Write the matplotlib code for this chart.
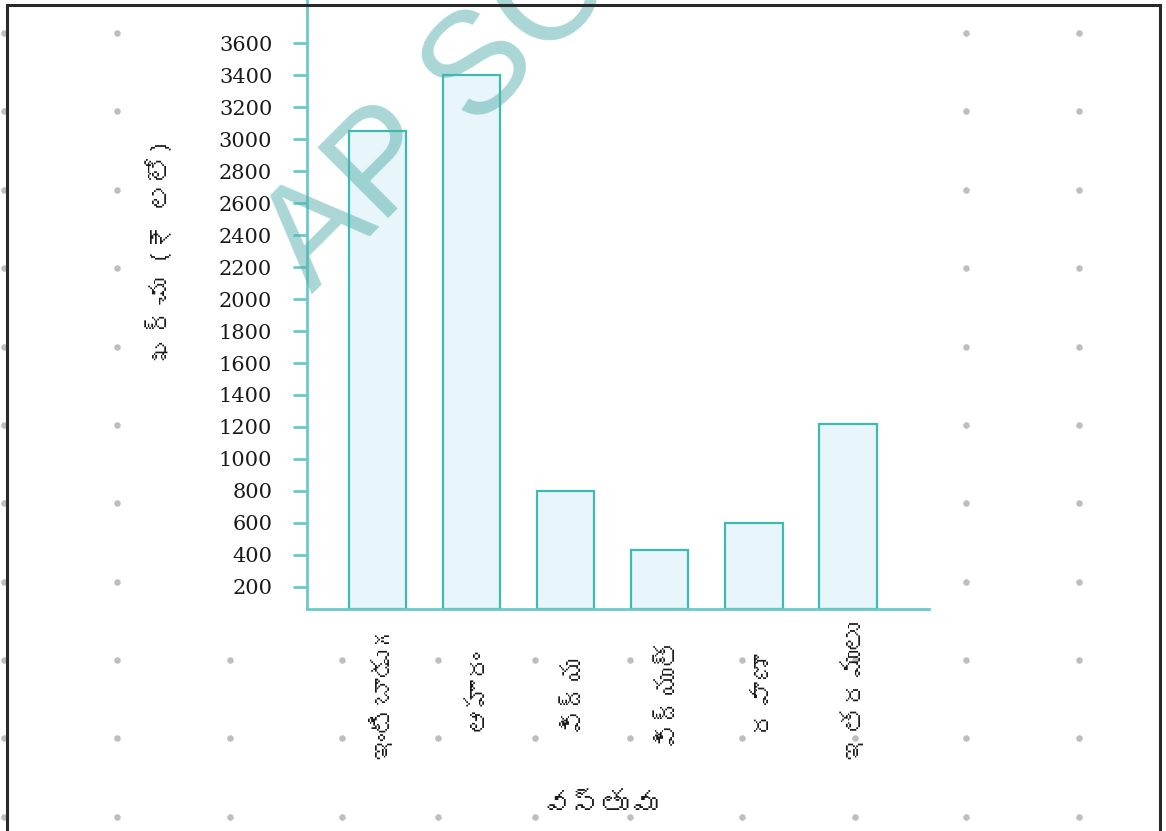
import matplotlib
matplotlib.use("Agg")
import matplotlib.pyplot as plt
import matplotlib.transforms as mtransforms
from matplotlib import font_manager
from matplotlib.ft2font import FT2Font
from matplotlib.patches import Rectangle
import numpy as np

# ---- data -------------------------------------------------------------
categories = ['ఇంటిబాడుగ', 'ఆహారం', 'విద్య', 'విద్యుత్', 'రవాణా', 'ఇతరములు']
expenses = [3050, 3400, 800, 430, 600, 1220]
y_ticks = [200, 400, 600, 800, 1000, 1200, 1400, 1600, 1800, 2000,
           2200, 2400, 2600, 2800, 3000, 3200, 3400, 3600]
x_title = 'వస్తువు'
y_title = 'ఖర్చు (₹ లలో)'
watermark = 'AP SCERT'


def find_family(sample):
    """Return the first installed font family that covers every char of sample."""
    for entry in font_manager.fontManager.ttflist:
        try:
            ft = FT2Font(entry.fname)
            if all(ft.get_char_index(ord(ch)) for ch in sample if not ch.isspace()):
                return entry.name
        except Exception:
            continue
    return None


telugu = find_family('ఇంటిబాడుగఆహారవస్తువుఖర్చు')
te_family = [telugu, 'DejaVu Sans'] if telugu else ['DejaVu Sans']

# ---- colours ----------------------------------------------------------
AXIS = '#6cc9cb'
EDGE = '#3dbab3'
FACE = '#e8f5fa'
DOT = '#bdbdc2'
INK = '#1a1a1a'

W, H = 1166, 831
fig = plt.figure(figsize=(W / 100, H / 100), dpi=100)
fig.patch.set_facecolor('white')

# background dotted grid (decoration behind the chart)
bg = fig.add_axes([0, 0, 1, 1], zorder=0)
bg.set_xlim(0, W)
bg.set_ylim(H, 0)
bg.axis('off')
dot_cols = [4, 117, 230, 342, 438, 535, 630, 742, 855, 966, 1079]
dot_rows = [33, 111, 190, 268, 347, 425, 503, 582, 660, 738, 817]
for r in dot_rows:
    cols = dot_cols if r > 600 else [c for c in dot_cols if c < 150 or c > 940]
    bg.scatter(cols, [r] * len(cols), s=22, color=DOT, linewidths=0)

# ---- main chart -------------------------------------------------------
ax = fig.add_axes([307 / W, (H - 609) / H, (929 - 307) / W, 609 / H], zorder=2)
ax.patch.set_alpha(0)

# the horizontal axis sits a little above zero on this chart
base = 61
ax.set_ylim(base, 3871)
ax.set_xlim(-0.749, 5.861)

x = np.arange(len(categories))
vals = np.array(expenses, dtype=float)
ax.bar(x, vals - base, bottom=base, width=0.61, color=FACE,
       edgecolor=EDGE, linewidth=1.6, zorder=2)

for side in ('top', 'right'):
    ax.spines[side].set_visible(False)
for side in ('left', 'bottom'):
    ax.spines[side].set_color(AXIS)
    ax.spines[side].set_linewidth(2.0)

ax.set_yticks(y_ticks)
ax.set_yticklabels([str(t) for t in y_ticks], family='DejaVu Serif',
                   fontsize=15, color=INK)
ax.tick_params(axis='y', direction='out', length=10, width=2.0,
               color=AXIS, pad=15)

ax.set_xticks(x)
ax.set_xticklabels(categories, rotation=90, family=te_family,
                   fontsize=20, color=INK, va='center')
ax.tick_params(axis='x', length=0, pad=58)
shift = mtransforms.ScaledTranslation(5 / 100, 0, fig.dpi_scale_trans)
for lbl in ax.get_xticklabels():
    lbl.set_transform(lbl.get_transform() + shift)

# axis titles
fig.text(160 / W, 1 - 250 / H, y_title, rotation=90, ha='center', va='center',
         family=te_family, fontsize=20, color=INK)
fig.text(600 / W, 1 - 805 / H, x_title, ha='center', va='center',
         family=te_family, fontsize=21, color=INK)

# translucent watermark over the chart
fig.text(312 / W, 1 - 294 / H, watermark, rotation=45, rotation_mode='anchor',
         ha='left', va='baseline', family='Liberation Sans', fontsize=104,
         color='#55afab', alpha=0.5, zorder=5)

# page frame
frame = Rectangle((7 / W, -0.05), (1160 - 7) / W, 1 - 5 / H + 0.05,
                  transform=fig.transFigure, fill=False,
                  edgecolor='#2a2a2a', linewidth=2.2, zorder=10)
fig.add_artist(frame)

fig.savefig('out.png', dpi=100)
